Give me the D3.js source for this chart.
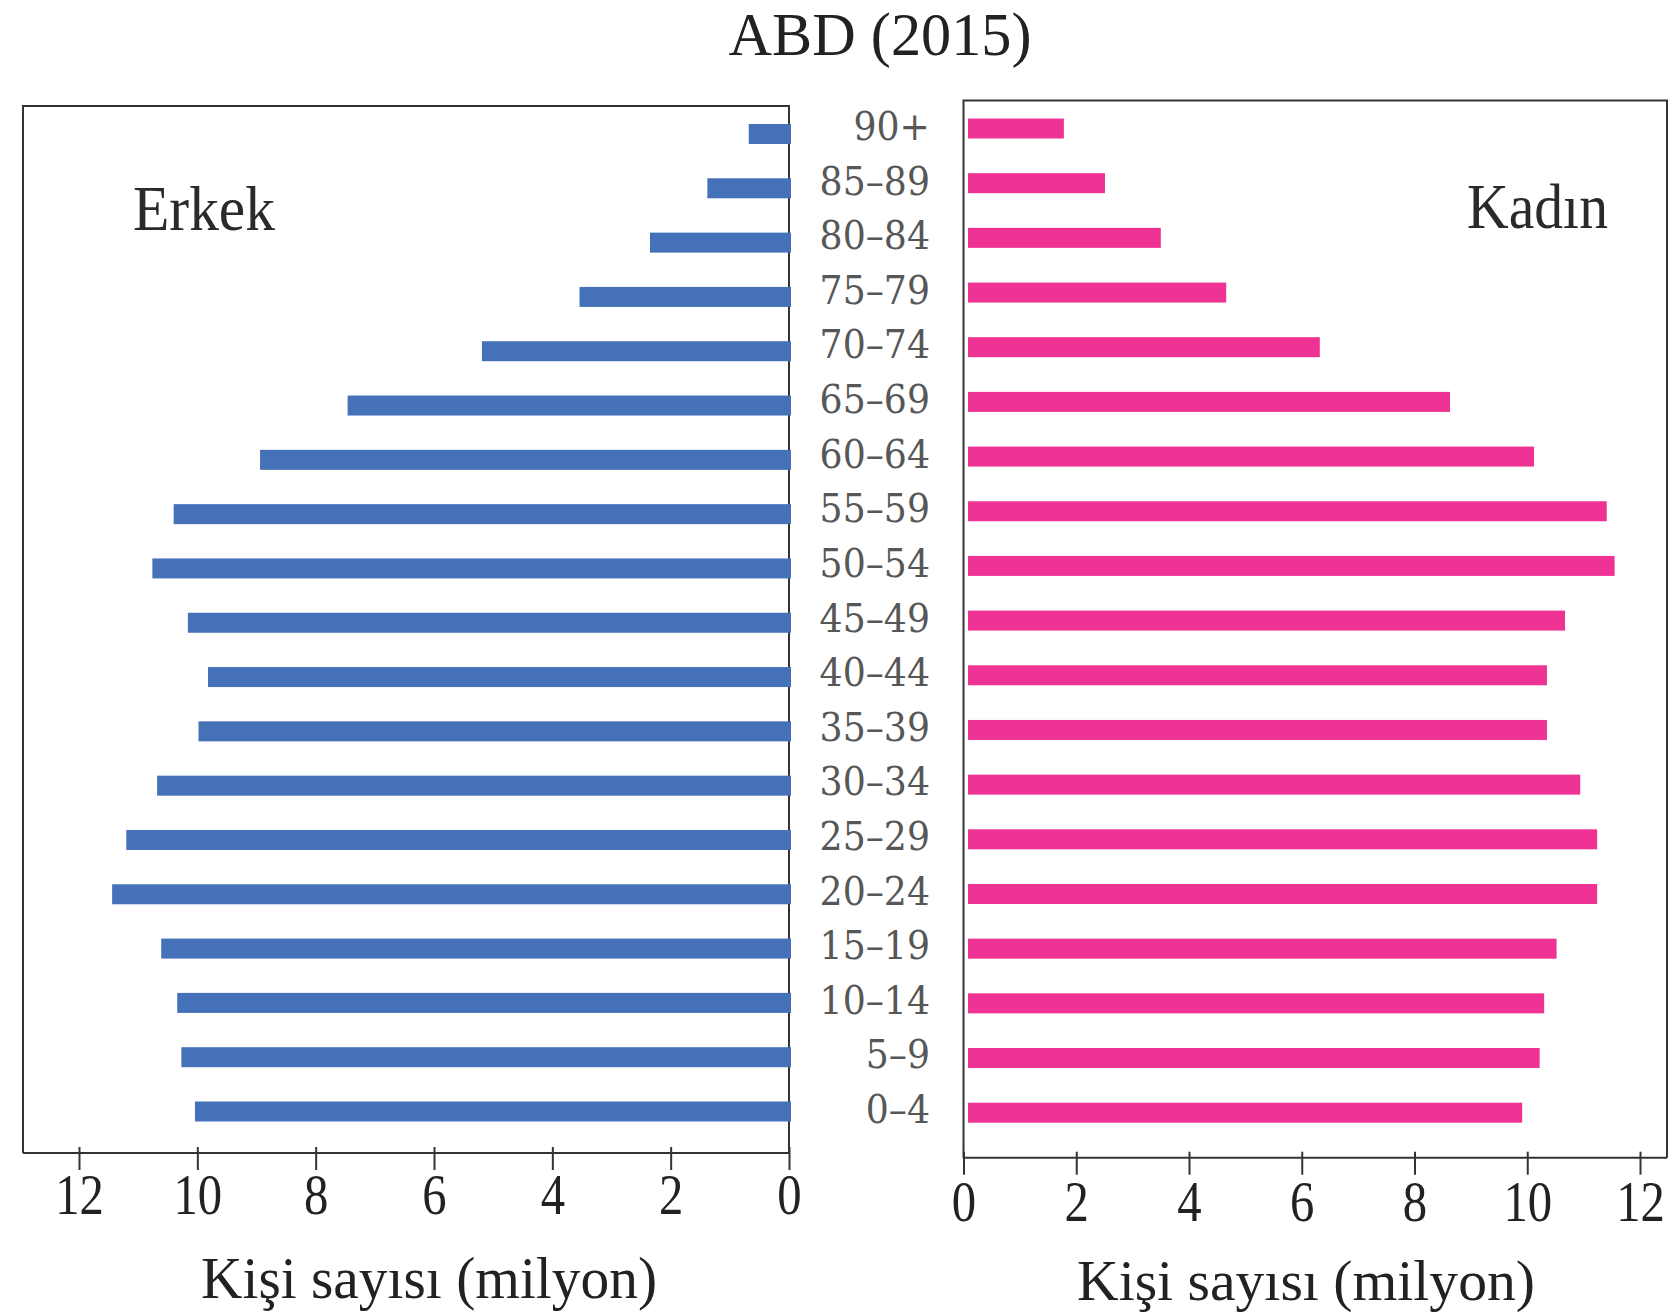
<!DOCTYPE html>
<html>
<head>
<meta charset="utf-8">
<script src="https://d3js.org/d3.v7.min.js"></script>
<style>
  body { margin: 0; background: #fff; }
</style>
</head>
<body>
<div id="chart"></div>
<script>
// age groups, top to bottom
const ages = ["90+", "85–89", "80–84", "75–79", "70–74", "65–69", "60–64", "55–59", "50–54",
  "45–49", "40–44", "35–39", "30–34", "25–29", "20–24", "15–19", "10–14", "5–9", "0–4"];
// millions of people
const male = [0.68, 1.38, 2.35, 3.54, 5.19, 7.46, 8.94, 10.40, 10.76,
  10.16, 9.82, 9.98, 10.68, 11.20, 11.44, 10.61, 10.34, 10.27, 10.04];
const female = [1.78, 2.51, 3.50, 4.66, 6.32, 8.63, 10.12, 11.41, 11.55,
  10.67, 10.35, 10.35, 10.94, 11.24, 11.24, 10.52, 10.30, 10.22, 9.91];
const xTicks = [0, 2, 4, 6, 8, 10, 12];

const title = "ABD (2015)";
const leftLabel = "Erkek";
const rightLabel = "Kadın";
const axisTitle = "Kişi sayısı (milyon)";

const width = 1671, height = 1315;
const SERIF = "'Liberation Serif', 'Times New Roman', serif";
const BLUE = "#4571b8", PINK = "#ee3394", LINE = "#333";

// panel boxes
const L = { left: 23, right: 789, top: 106, bottom: 1153 };
const R = { left: 963.5, right: 1667, top: 100.5, bottom: 1157.7 };

const svg = d3.select("#chart").append("svg")
  .attr("width", width)
  .attr("height", height);

// scales
const xL = d3.scaleLinear().domain([0, 12]).range([L.right, 79]);
const xR = d3.scaleLinear().domain([0, 12]).range([R.left, 1640]);
const yL = d3.scalePoint().domain(ages).range([134, 1111.5]);
const yR = d3.scalePoint().domain(ages).range([128.5, 1112.7]);
const yLab = d3.scalePoint().domain(ages).range([126, 1109]);
const barH = 20;

// title
svg.append("text")
  .attr("x", 880).attr("y", 55)
  .attr("text-anchor", "middle")
  .attr("font-family", SERIF).attr("font-size", 62)
  .attr("fill", "#222")
  .attr("textLength", 303).attr("lengthAdjust", "spacingAndGlyphs")
  .text(title);

// panel frames (top, outer side)
svg.append("path")
  .attr("d", `M${L.right},${L.bottom}V${L.top}H${L.left}V${L.bottom}`)
  .attr("fill", "none").attr("stroke", LINE).attr("stroke-width", 2);
svg.append("path")
  .attr("d", `M${R.left},${R.bottom}V${R.top}H${R.right}V${R.bottom}`)
  .attr("fill", "none").attr("stroke", LINE).attr("stroke-width", 2);

// bars
svg.append("g").selectAll("rect")
  .data(ages)
  .join("rect")
  .attr("x", (d, i) => xL(male[i]))
  .attr("y", d => yL(d) - barH / 2)
  .attr("width", (d, i) => xL(0) + 2 - xL(male[i]))
  .attr("height", barH)
  .attr("fill", BLUE);

svg.append("g").selectAll("rect")
  .data(ages)
  .join("rect")
  .attr("x", xR(0) + 4.5)
  .attr("y", d => yR(d) - barH / 2)
  .attr("width", (d, i) => xR(female[i]) - xR(0) - 4.5)
  .attr("height", barH)
  .attr("fill", PINK);

// age labels in the middle
svg.append("g").selectAll("text")
  .data(ages)
  .join("text")
  .attr("transform", d => `translate(930,${yLab(d)}) scale(0.93,1)`)
  .attr("dy", "0.36em")
  .attr("text-anchor", "end")
  .attr("font-family", "'DejaVu Serif', serif")
  .attr("font-size", 39)
  .attr("fill", "#575757")
  .text(d => d);

// Erkek / Kadın
svg.append("text")
  .attr("x", 133).attr("y", 230)
  .attr("font-family", SERIF).attr("font-size", 63)
  .attr("fill", "#2a2a2a")
  .attr("textLength", 142).attr("lengthAdjust", "spacingAndGlyphs")
  .text(leftLabel);
svg.append("text")
  .attr("x", 1608).attr("y", 228)
  .attr("text-anchor", "end")
  .attr("font-family", SERIF).attr("font-size", 63)
  .attr("fill", "#2a2a2a")
  .attr("textLength", 141).attr("lengthAdjust", "spacingAndGlyphs")
  .text(rightLabel);

// axes
function drawAxis(scale, box, labelOffset) {
  svg.append("line")
    .attr("x1", box.left).attr("x2", box.right)
    .attr("y1", box.bottom).attr("y2", box.bottom)
    .attr("stroke", LINE).attr("stroke-width", 2);

  const g = svg.append("g")
    .attr("transform", `translate(0,${box.bottom})`)
    .call(d3.axisBottom(scale).tickValues(xTicks).tickSize(17).tickFormat(d => d));
  g.select(".domain").remove();
  g.selectAll(".tick line")
    .attr("y1", -6)
    .attr("stroke", LINE).attr("stroke-width", 2);
  g.selectAll(".tick text")
    .attr("y", labelOffset).attr("dy", 0)
    .attr("font-family", SERIF).attr("font-size", 58)
    .attr("fill", "#222")
    .attr("transform", "scale(0.84,1)");
}
drawAxis(xL, L, 61);
drawAxis(xR, R, 63);

// axis titles
svg.append("text")
  .attr("x", 429).attr("y", 1298)
  .attr("text-anchor", "middle")
  .attr("font-family", SERIF).attr("font-size", 59)
  .attr("fill", "#222")
  .attr("textLength", 456).attr("lengthAdjust", "spacingAndGlyphs")
  .text(axisTitle);
svg.append("text")
  .attr("x", 1306).attr("y", 1300)
  .attr("text-anchor", "middle")
  .attr("font-family", SERIF).attr("font-size", 58)
  .attr("fill", "#222")
  .attr("textLength", 458).attr("lengthAdjust", "spacingAndGlyphs")
  .text(axisTitle);
</script>
</body>
</html>
